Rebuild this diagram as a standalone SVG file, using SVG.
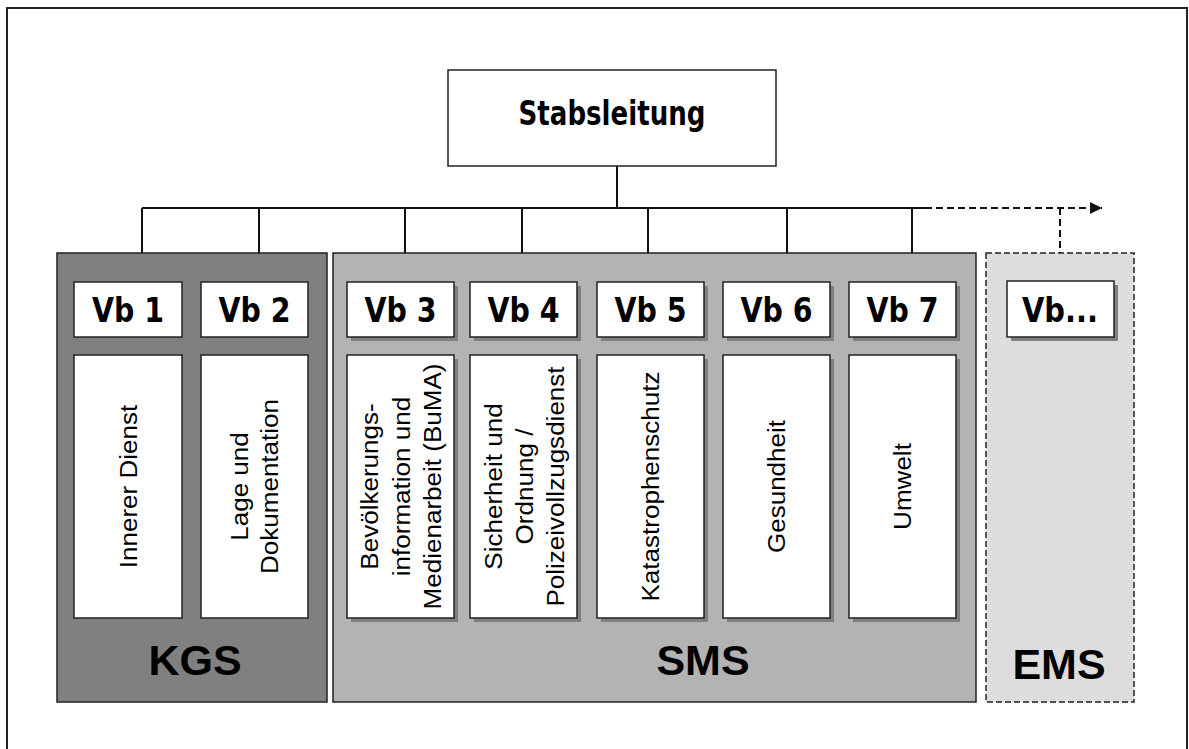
<svg xmlns="http://www.w3.org/2000/svg" width="1189" height="749" viewBox="0 0 1189 749">
<defs>
<style>
.frame{fill:none;stroke:#222;stroke-width:2}
.box{fill:#fff;stroke:#222;stroke-width:1.5}
.sh{fill:#808080}
.con{fill:none;stroke:#111;stroke-width:2}
.dash{fill:none;stroke:#111;stroke-width:2;stroke-dasharray:7 4}
.vb{font-family:"DejaVu Sans",Verdana,sans-serif;font-weight:bold;font-size:34px;text-anchor:middle;fill:#000}
.lbl{font-family:"Liberation Sans",Arial,sans-serif;font-weight:bold;font-size:43px;text-anchor:middle;fill:#000}
.rt{font-family:"Liberation Sans",Arial,sans-serif;font-size:24px;text-anchor:middle;fill:#000}
</style>
<marker id="arr" viewBox="0 0 10 10" refX="10" refY="5" markerWidth="12" markerHeight="12" markerUnits="userSpaceOnUse" orient="auto">
<path d="M0,0 L10,5 L0,10 z" fill="#111"/>
</marker>
</defs>
<rect x="0" y="0" width="1189" height="749" fill="#fff"/>
<rect class="frame" x="7" y="8" width="1180" height="745"/>

<g id="kgs">
<rect x="57" y="253" width="270" height="449" fill="#808080" stroke="#222" stroke-width="1.5"/>
<text class="lbl" x="195" y="675">KGS</text>
</g>
<g id="sms">
<rect x="333" y="253" width="643" height="449" fill="#b3b3b3" stroke="#222" stroke-width="1.5"/>
<text class="lbl" x="703" y="675">SMS</text>
</g>
<g id="ems">
<rect x="986" y="253" width="148" height="449" fill="#dddddd" stroke="#222" stroke-width="1.5" stroke-dasharray="6 3"/>
<text class="lbl" x="1059" y="679">EMS</text>
</g>

<g id="connectors">
<line class="con" x1="617" y1="166" x2="617" y2="208"/>
<line class="con" x1="142" y1="208" x2="925" y2="208"/>
<line class="dash" x1="925" y1="208" x2="1102" y2="208" marker-end="url(#arr)"/>
<line class="con" x1="142" y1="208" x2="142" y2="253"/>
<line class="con" x1="259" y1="208" x2="259" y2="253"/>
<line class="con" x1="405" y1="208" x2="405" y2="253"/>
<line class="con" x1="522" y1="208" x2="522" y2="253"/>
<line class="con" x1="648" y1="208" x2="648" y2="253"/>
<line class="con" x1="787" y1="208" x2="787" y2="253"/>
<line class="con" x1="912" y1="208" x2="912" y2="253"/>
<line class="dash" x1="1060" y1="208" x2="1060" y2="253"/>
</g>

<g id="stabsleitung">
<rect class="box" x="448" y="70" width="328" height="96"/>
<text class="vb" x="612" y="125" font-size="31" textLength="187" lengthAdjust="spacingAndGlyphs">Stabsleitung</text>
</g>

<g id="vb1">
<rect class="sh" x="78" y="286" width="108" height="55"/>
<rect class="box" x="74" y="282" width="108" height="55"/>
<text class="vb" x="128" y="322" textLength="72" lengthAdjust="spacingAndGlyphs">Vb 1</text>
<rect class="sh" x="78" y="359" width="108" height="263"/>
<rect class="box" x="74" y="355" width="108" height="263"/>
<text class="rt" transform="translate(128,486.5) scale(1,1.085) rotate(-90)" y="8.5">Innerer Dienst</text>
</g>
<g id="vb2">
<rect class="sh" x="205" y="286" width="107" height="55"/>
<rect class="box" x="201" y="282" width="107" height="55"/>
<text class="vb" x="254.5" y="322" textLength="72" lengthAdjust="spacingAndGlyphs">Vb 2</text>
<rect class="sh" x="205" y="359" width="107" height="263"/>
<rect class="box" x="201" y="355" width="107" height="263"/>
<text class="rt" transform="translate(254.5,486.5) scale(1,1.085) rotate(-90)"><tspan x="0" y="-7">Lage und</tspan><tspan x="0" y="24">Dokumentation</tspan></text>
</g>
<g id="vb3">
<rect class="sh" x="351" y="286" width="107" height="55"/>
<rect class="box" x="347" y="282" width="107" height="55"/>
<text class="vb" x="400.5" y="322" textLength="72" lengthAdjust="spacingAndGlyphs">Vb 3</text>
<rect class="sh" x="351" y="359" width="107" height="263"/>
<rect class="box" x="347" y="355" width="107" height="263"/>
<text class="rt" transform="translate(401,486.5) scale(1,1.085) rotate(-90)"><tspan x="0" y="-23">Bevölkerungs-</tspan><tspan x="0" y="8.5">information und</tspan><tspan x="0" y="40">Medienarbeit (BuMA)</tspan></text>
</g>
<g id="vb4">
<rect class="sh" x="474" y="286" width="107" height="55"/>
<rect class="box" x="470" y="282" width="107" height="55"/>
<text class="vb" x="523.5" y="322" textLength="72" lengthAdjust="spacingAndGlyphs">Vb 4</text>
<rect class="sh" x="474" y="359" width="107" height="263"/>
<rect class="box" x="470" y="355" width="107" height="263"/>
<text class="rt" transform="translate(524.5,486.5) scale(1,1.085) rotate(-90)"><tspan x="0" y="-23">Sicherheit und</tspan><tspan x="0" y="8.5">Ordnung /</tspan><tspan x="0" y="40">Polizeivollzugsdienst</tspan></text>
</g>
<g id="vb5">
<rect class="sh" x="601" y="286" width="107" height="55"/>
<rect class="box" x="597" y="282" width="107" height="55"/>
<text class="vb" x="650.5" y="322" textLength="72" lengthAdjust="spacingAndGlyphs">Vb 5</text>
<rect class="sh" x="601" y="359" width="107" height="263"/>
<rect class="box" x="597" y="355" width="107" height="263"/>
<text class="rt" transform="translate(650.5,486.5) scale(1,1.085) rotate(-90)" y="8.5">Katastrophenschutz</text>
</g>
<g id="vb6">
<rect class="sh" x="727" y="286" width="107" height="55"/>
<rect class="box" x="723" y="282" width="107" height="55"/>
<text class="vb" x="776.5" y="322" textLength="72" lengthAdjust="spacingAndGlyphs">Vb 6</text>
<rect class="sh" x="727" y="359" width="107" height="263"/>
<rect class="box" x="723" y="355" width="107" height="263"/>
<text class="rt" transform="translate(776.5,486.5) scale(1,1.085) rotate(-90)" y="8.5">Gesundheit</text>
</g>
<g id="vb7">
<rect class="sh" x="853" y="286" width="107" height="55"/>
<rect class="box" x="849" y="282" width="107" height="55"/>
<text class="vb" x="902.5" y="322" textLength="72" lengthAdjust="spacingAndGlyphs">Vb 7</text>
<rect class="sh" x="853" y="359" width="107" height="263"/>
<rect class="box" x="849" y="355" width="107" height="263"/>
<text class="rt" transform="translate(902.5,486.5) scale(1,1.085) rotate(-90)" y="8.5">Umwelt</text>
</g>
<g id="vbx">
<rect class="sh" x="1011" y="285" width="107" height="56"/>
<rect class="box" x="1007" y="281" width="107" height="56"/>
<text class="vb" x="1060" y="322" textLength="76" lengthAdjust="spacingAndGlyphs">Vb...</text>
</g>
</svg>
